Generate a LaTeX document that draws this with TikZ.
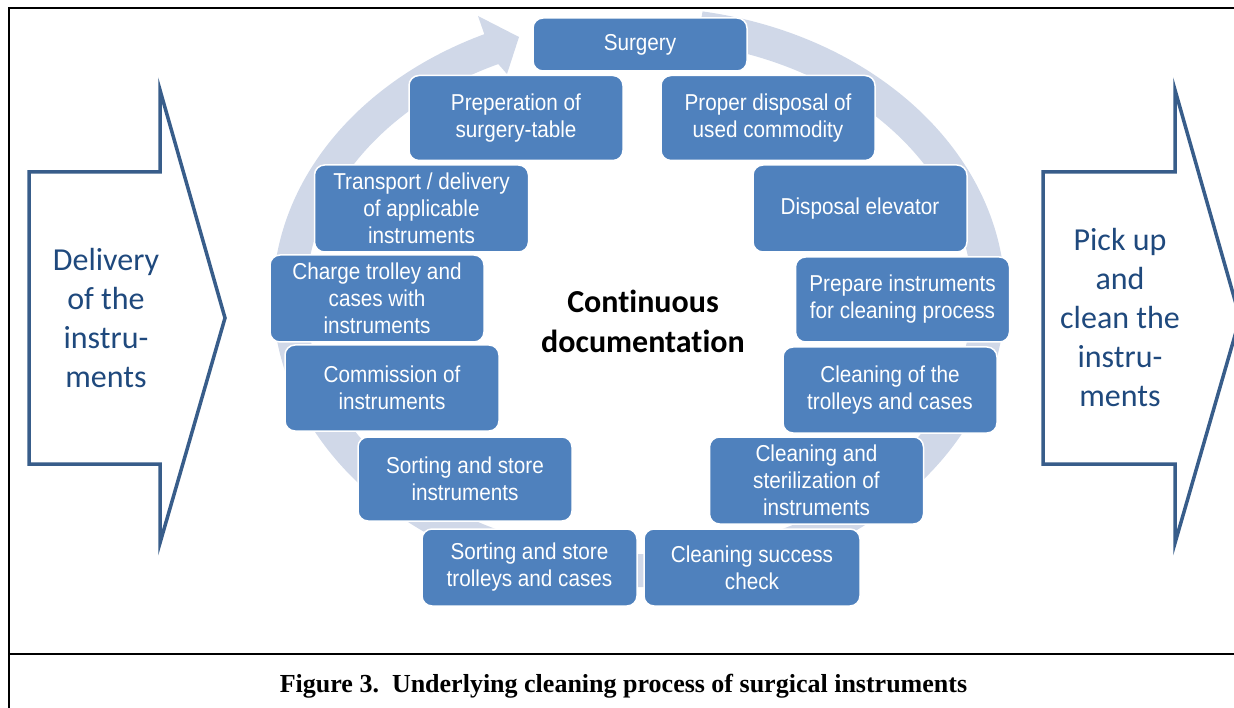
\documentclass[tikz,border=0pt]{standalone}
\usepackage{fontspec}
\setmainfont{Liberation Serif}
\newfontfamily\boxfont[FakeStretch=0.9]{Liberation Sans}
\newfontfamily\calfont[Ligatures=NoCommon]{Carlito}

\definecolor{stepblue}{RGB}{79,129,189}
\definecolor{ringgray}{RGB}{208,216,232}
\definecolor{arrowblue}{RGB}{56,93,138}
\definecolor{textblue}{RGB}{31,73,125}

\tikzset{
    stage/.style={draw=white, line width=1.5pt, fill=stepblue, rounded corners=10pt,
        minimum width=214pt, minimum height=85pt, inner sep=2pt, align=center,
        text=white, font=\boxfont\fontsize{23}{27}\selectfont},
    side/.style={draw=arrowblue, line width=3.5pt, fill=white, line join=miter},
    sidetext/.style={align=center, text=textblue, font=\calfont\fontsize{32}{39}\selectfont}
}

\begin{document}
\begin{tikzpicture}[x=1pt, y=-1pt]
    \useasboundingbox (0,0) rectangle (1234,708);

    % frame and caption
    \draw[line width=2.5pt] (1240,8) -- (9,8) -- (9,712);
    \draw[line width=2.5pt] (9,654) -- (1240,654);
    \node[font=\bfseries\fontsize{26}{30}\selectfont] (caption) at (623.5,686)
        {Figure 3.\ \ Underlying cleaning process of surgical instruments};

    % side arrows
    \filldraw[side] (29,172) -- (160,172) -- (160,90) -- (225,318) -- (160,543) -- (160,464) -- (29,464) -- cycle;
    \node[sidetext] (delivery) at (106,318) {Delivery\\of the\\instru-\\ments};
    \filldraw[side] (1043,172) -- (1175,172) -- (1175,90) -- (1240,318) -- (1175,543) -- (1175,464) -- (1043,464) -- cycle;
    \node[sidetext] (pickup) at (1120,318) {Pick up\\and\\clean the\\instru-\\ments};

    % cycle ring
    \coordinate (ringc) at (639,297);
    \fill[ringgray] ([shift={(-80:366 and 290)}]ringc)
        arc[start angle=-80, end angle=245, x radius=366, y radius=290]
        -- (478,16) -- (519,37) -- (507,74)
        -- ([shift={(245:333 and 257)}]ringc)
        arc[start angle=245, end angle=-80, x radius=333, y radius=257] -- cycle;

    \node[font=\calfont\bfseries\fontsize{32}{40}\selectfont, align=center] (docu) at (643,321)
        {Continuous\\documentation};

    % steps
    \node[stage, minimum height=53pt] (surgery) at (640,44.5) {Surgery};
    \node[stage] (disposal) at (768,118) {Proper disposal of\\used commodity};
    \node[stage, minimum height=87pt] (elevator) at (860,208.5) {Disposal elevator};
    \node[stage] (prepclean) at (902.5,299.5) {Prepare instruments\\for cleaning process};
    \node[stage, minimum height=86pt] (cleantrol) at (890,390) {Cleaning of the\\trolleys and cases};
    \node[stage, minimum height=87pt] (steril) at (816.5,480.5) {Cleaning and\\sterilization of\\instruments};
    \node[stage, minimum height=77pt, minimum width=216pt] (check) at (752,567.5) {Cleaning success\\check};
    \node[stage, minimum height=77pt, minimum width=215pt] (sorttrol) at (529.5,567.5) {Sorting and store\\trolleys and cases};
    \node[stage, minimum height=84pt] (sortinst) at (465,479) {Sorting and store\\instruments};
    \node[stage, minimum height=86pt] (commission) at (392,388) {Commission of\\instruments};
    \node[stage, minimum height=87pt] (charge) at (377,298.5) {Charge trolley and\\cases with\\instruments};
    \node[stage, minimum height=87pt] (transport) at (421.5,208.5) {Transport / delivery\\of applicable\\instruments};
    \node[stage] (prep) at (516,118) {Preperation of\\surgery-table};
\end{tikzpicture}
\end{document}
